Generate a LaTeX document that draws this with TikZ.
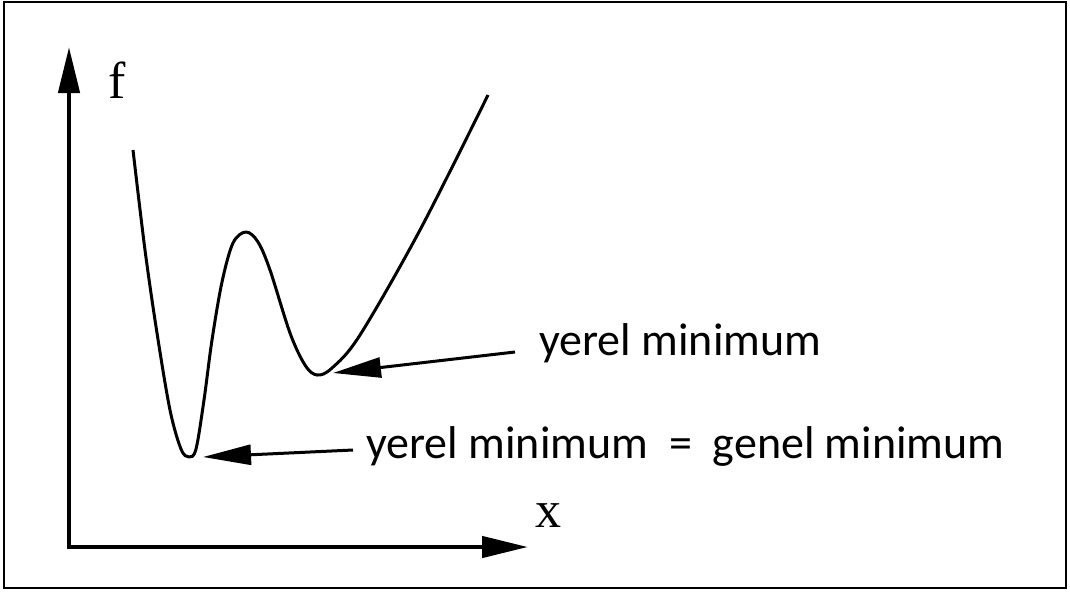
\documentclass[tikz,border=0pt]{standalone}
\usepackage{fontspec}
\usetikzlibrary{arrows.meta}
\newfontfamily\notefont{Carlito}
\newfontfamily\varfont{Liberation Serif}

\begin{document}
\begin{tikzpicture}[x=1pt,y=-1pt,
 frame/.style={draw=black,line width=2.5pt},
 axis/.style={line width=4.5pt,{Triangle[length=46pt,width=21pt]}-{Triangle[length=46pt,width=21pt]}},
 curve/.style={line width=3pt,line join=round},
 pointer/.style={line width=3pt,-{Triangle[length=48pt,width=20pt]}},
 note/.style={inner sep=0pt,anchor=base west,font=\notefont\fontsize{46}{55}\selectfont},
 varlabel/.style={inner sep=0pt,anchor=base,font=\varfont\fontsize{52}{60}\selectfont}]
 \useasboundingbox (0,0) rectangle (1070,592);
 \draw[frame] (4,2) rectangle (1066,588);
 \coordinate (ytop) at (69,47);
 \coordinate (origin) at (69,547);
 \coordinate (xend) at (528,547);
 \draw[axis] (ytop) -- (origin) -- (xend);
 \node[varlabel] (flabel) at (117,98) {f};
 \node[varlabel] (xlabel) at (548,527) {x};
 \draw[curve] plot[smooth,tension=.55] coordinates {
   (133,150) (145,250) (157,333) (170,410) (181,449) (189,457) (196,449)
   (204,400) (212,340) (222,282) (233,243) (246,232) (258,242) (270,270)
   (290,333) (305,365) (317,375) (332,368) (360,335) (420,230) (488,95)};
 \coordinate (globmin) at (203,457);
 \coordinate (locmin) at (333,373);
 \coordinate (tailA) at (515,352);
 \coordinate (tailB) at (353,450);
 \node[note] (locnote) at (539,355) {yerel minimum};
 \node[note] (globnote) at (366,458) {yerel minimum\ \ =\ \ genel minimum};
 \draw[pointer] (tailA) -- (locmin);
 \draw[pointer] (tailB) -- (globmin);
\end{tikzpicture}
\end{document}
